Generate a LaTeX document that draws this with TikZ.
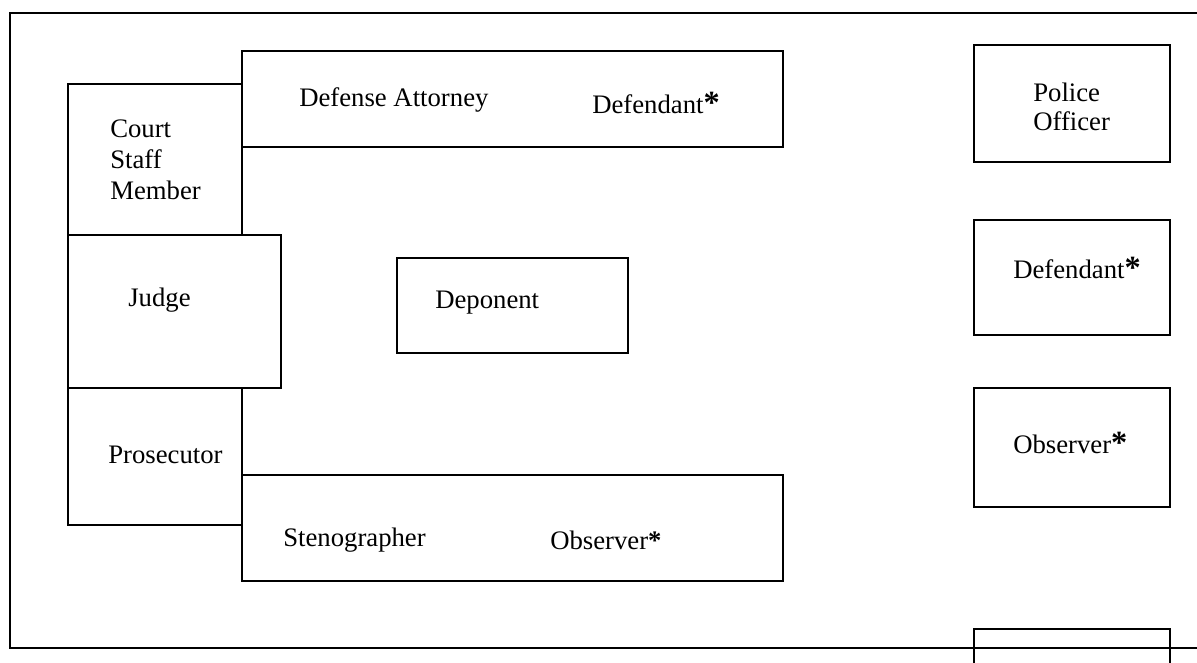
\documentclass[tikz,border=0pt]{standalone}
\usepackage{fontspec}
\setmainfont{Liberation Serif}
\newcommand{\bigast}{{\fontsize{23}{22}\selectfont\bfseries *}}
\newcommand{\boldast}{{\bfseries *}}
\begin{document}
\begin{tikzpicture}[
    x=0.025cm, y=-0.025cm,
    box/.style={draw,line width=1.1pt},
    txt/.style={anchor=west,inner sep=0pt,align=left,font=\fontsize{19}{22}\selectfont},
    every node/.style={text=black}
]
\useasboundingbox (0,0) rectangle (1197,663);

% Sala (ramka bez prawej krawedzi)
\draw[box] (1197,13) -- (10,13) -- (10,648) -- (1197,648);

% Lewa strona: personel, sedzia, prokurator
\draw[box] (68,84) rectangle (242,235);
\draw[box] (68,388) rectangle (242,525);
\draw[box] (68,235) rectangle (281,388);

% Lawy gorna i dolna
\draw[box] (242,51) rectangle (783,147);
\draw[box] (242,475) rectangle (783,581);

% Swiadek
\draw[box] (397,258) rectangle (628,353);

% Prawa strona
\draw[box] (974,45) rectangle (1170,162);
\draw[box] (974,220) rectangle (1170,335);
\draw[box] (974,388) rectangle (1170,507);
\draw[box] (974,663) -- (974,629) -- (1170,629) -- (1170,663);

% Opisy
\node[txt] (staff) at (110,160) {Court\\Staff\\Member};
\node[txt] (judge) at (128,300) {Judge};
\node[txt] (prosecutor) at (108,455) {Prosecutor};
\node[txt] (defense) at (299,100) {Defense Attorney};
\node[txt] (defendant1) at (592,103) {Defendant\bigast};
\node[txt] (deponent) at (435,303) {Deponent};
\node[txt] (steno) at (283,540) {Stenographer};
\node[txt] (observer1) at (550,540) {Observer\boldast};
\node[txt,font=\fontsize{19}{20.6}\selectfont] (police) at (1033,107) {Police\\Officer};
\node[txt] (defendant2) at (1013,268) {Defendant\bigast};
\node[txt] (observer2) at (1013,443) {Observer\bigast};

\end{tikzpicture}
\end{document}
